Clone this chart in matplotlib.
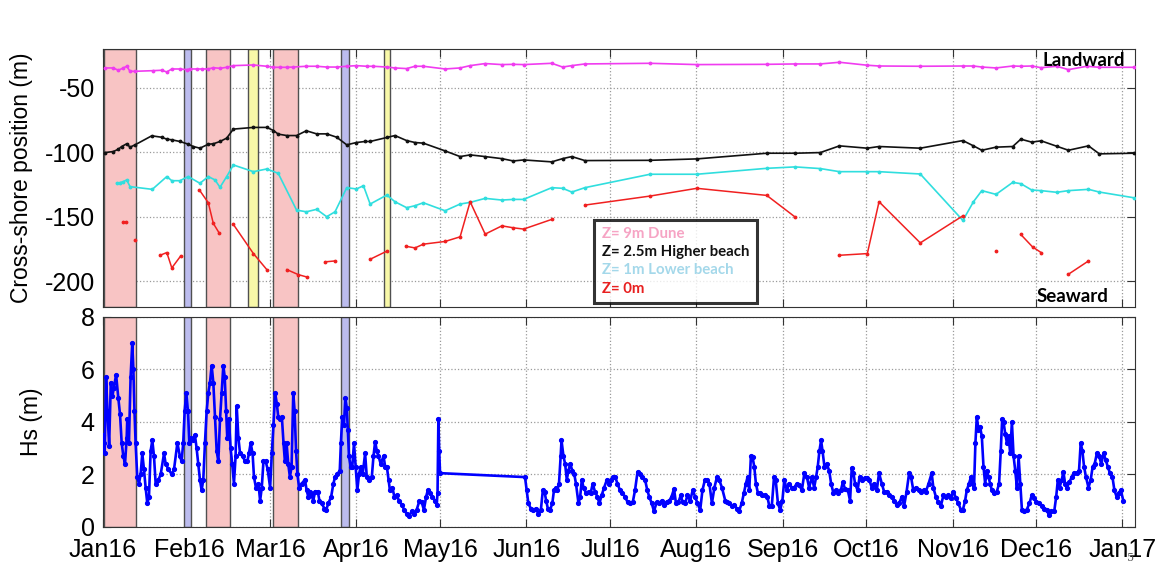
import numpy as np
import matplotlib
matplotlib.use("Agg")
import matplotlib.pyplot as plt
import matplotlib.dates as mdates
from matplotlib.lines import Line2D
from datetime import datetime

# days are counted from 1 Jan 2016
mag_day = [0.7, 3.7, 5.5, 7.3, 8.5, 9.7, 11.5, 18, 21, 22.9, 24.7, 27.6, 30, 31.2, 33.6, 35.4,
           37.8, 39.6, 42, 44.4, 46.8, 54, 58.8, 61.2, 63.6, 66, 68.3, 73, 76.7, 80.3, 83.9,
           87.5, 91, 94.6, 97, 101.9, 104.8, 109, 112, 115, 122.8, 128.2, 131.8, 137.2, 143.2,
           147.3, 151, 161.1, 165, 168.3, 173, 196.4, 213.2, 238.3, 248.5, 257.5, 264.4, 274.4,
           278.6, 293.4, 308.7, 312.5, 315.5, 320.6, 326.6, 329.5, 333.4, 336.8, 342.4, 346.6,
           353.2, 357.7, 370]
mag_val = [-34.7, -34.7, -36.5, -34.7, -33.4, -37.3, -37.3, -36.8, -36.5, -37.8, -35.5, -35.5,
           -36.0, -35.5, -35.5, -35.5, -35.5, -34.5, -35.0, -34.2, -32.9, -32.4, -33.4, -34.2,
           -34.2, -34.2, -34.0, -33.4, -33.4, -34.0, -34.0, -33.4, -32.9, -33.4, -33.4, -34.0,
           -34.7, -35.2, -33.4, -33.4, -35.5, -34.7, -32.9, -31.3, -32.1, -31.9, -32.1, -31.1,
           -34.0, -32.9, -31.6, -31.1, -32.1, -31.9, -31.6, -31.6, -30.3, -32.6, -33.2, -33.4,
           -33.2, -33.2, -34.0, -34.7, -33.2, -33.4, -33.2, -34.5, -33.4, -36.0, -33.4, -34.2,
           -34.2]

blk_day = [0.7, 3.7, 5.5, 6.7, 8.5, 9.7, 11.5, 17.5, 21, 22.9, 24.7, 27.6, 30.6, 32.4, 34.8,
           37.8, 39.6, 42, 44.4, 46.8, 54, 58.8, 61.2, 62.9, 66, 69.5, 73, 76.7, 80.3, 83.9,
           87.5, 91, 94.1, 95.9, 101.9, 104.8, 109, 112, 115, 122.8, 128.2, 131.8, 137.2,
           143.2, 147.3, 151, 161.1, 165, 168.3, 173, 196.4, 213.2, 238.3, 248.5, 257.5, 264.4,
           274.4, 278.6, 293.4, 308.7, 312.5, 315.5, 320.6, 326.6, 329.5, 333.4, 336.8, 342.4,
           346.6, 353.8, 357.7, 370]
blk_val = [-100.3, -99.5, -97.7, -95.6, -93.5, -96.1, -94.3, -87.3, -88.4, -89.9, -90.4, -91.7,
           -93.8, -95.6, -96.9, -93.8, -93.5, -91.7, -89.1, -82.1, -80.8, -80.8, -83.2, -86.0,
           -87.1, -87.1, -83.4, -85.8, -85.8, -88.4, -94.3, -92.5, -91.7, -91.7, -88.6, -87.1,
           -91.0, -92.5, -93.0, -99.0, -103.4, -102.1, -103.4, -105.0, -106.8, -106.0, -107.5,
           -105.0, -103.4, -106.5, -106.3, -105.2, -100.8, -100.8, -100.3, -95.1, -96.9, -95.6,
           -96.9, -91.0, -95.1, -98.5, -96.1, -95.6, -89.9, -92.2, -91.2, -95.4, -98.5, -95.1,
           -101.3, -100.8]

cyn_day = [4.9, 6.1, 7.3, 8.5, 9.7, 17.7, 22.9, 24.7, 27.6, 30.6, 34.8, 37.8, 40.2, 42, 44.4,
           46.8, 54, 58.8, 62.9, 69.5, 73, 76.7, 80.3, 83.3, 87.5, 91, 93.5, 95.9, 101.9, 104.8,
           109, 112, 115, 122.8, 128.2, 131.8, 137.2, 143.2, 147.3, 151, 161.1, 165, 168.3, 173,
           196.4, 213.2, 238.3, 248.5, 257.5, 264.4, 274.4, 278.6, 293.4, 308.7, 312.5, 315.5,
           320.6, 326.6, 329.5, 333.4, 336.8, 342.4, 346.6, 353.8, 357.7, 370]
cyn_val = [-124.1, -123.6, -122.8, -121.5, -126.7, -128.8, -118.9, -122.1, -122.1, -118.9,
           -124.1, -118.9, -121.5, -127.2, -118.9, -109.9, -115.1, -113.0, -116.4, -144.9,
           -146.2, -144.3, -150.0, -146.2, -127.5, -128.5, -126.0, -140.2, -133.2, -138.4,
           -143.0, -141.5, -139.2, -145.4, -140.2, -138.9, -135.8, -137.1, -136.6, -136.6,
           -127.5, -128.0, -130.9, -127.5, -117.1, -117.1, -112.5, -111.4, -112.7, -115.1,
           -115.1, -115.1, -116.9, -152.9, -138.4, -129.8, -132.7, -123.4, -124.4, -129.3,
           -129.8, -131.1, -129.8, -128.8, -130.9, -135.3]

nan = np.nan
red_day = [7.3, 8.3, nan, 11.5, nan, 20.5, 22.9, 24.7, 27.9, nan, 34.6, 37.8, 39.6, 41.8, nan,
           46.8, 54, 58.8, nan, 66, 70.1, 73.1, nan, 79.7, 83.3, nan, 95.9, 101.9, nan,
           108.7, 112, 115, 122.8, 128.2, 131.8, 137.2, 143.2, 147.3, 151, 161.1, nan,
           173, 196.4, 213.2, 238.3, 248.5, nan, 264.4, 274.4, 278.6, 293.4, 308.7, nan,
           320.6, nan, 329.5, 333.7, 336.8, nan, 346.6, 353.8]
red_val = [-154, -154, nan, -167.7, nan, -179.9, -177.8, -189.7, -180.4, nan, -129.3, -139.2,
           -155.2, -163, nan, -156, -178.6, -191, nan, -191, -194.9, -196.7, nan, -185, -184.3,
           nan, -183, -176.7, nan, -172.9, -174.2, -171.3, -169.2, -165.6, -138.4, -163.5,
           -157.1, -158.6, -159.6, -152.1, nan, -141, -134, -128, -133.5, -150.3, nan,
           -179.9, -178.6, -138.4, -170.3, -149.3, nan, -176.5, nan, -163.8, -173.4, -177.8,
           nan, -194.6, -184.3]

hs_day = [0.0, 0.3, 0.6, 1.1, 1.6, 2.2, 2.8, 3.4, 3.9, 4.7, 5.5, 6.1, 6.7, 7.3, 7.9, 8.5, 8.7,
          9.3, 9.9, 10.5, 10.9, 11.3, 11.7, 12.3, 12.9, 13.5, 14.1, 14.7, 15.3, 15.9, 16.5, 17.1,
          17.7, 18.3, 18.9, 19.9, 20.7, 21.9, 22.5, 23.5, 24.7, 25.5, 26.7, 27.6, 28.2, 28.8,
          29.3, 29.9, 30.5, 31.0, 31.6, 32.4, 33.0, 33.6, 34.2, 34.8, 35.4, 36.0, 36.6, 37.2,
          37.8, 38.4, 39.0, 39.6, 40.2, 40.8, 41.4, 42.0, 42.6, 43.2, 43.7, 44.2, 44.6, 45.2,
          45.8, 46.4, 47.0, 47.6, 48.0, 48.6, 49.2, 50.1, 51.0, 51.8, 52.4, 53.0, 53.7, 54.2,
          54.9, 55.8, 56.4, 57.0, 57.6, 58.4, 59.1, 60.0, 60.6, 61.2, 61.8, 62.4, 62.9, 63.6,
          64.2, 64.8, 65.3, 65.9, 66.5, 67.1, 67.7, 68.3, 68.8, 69.3, 69.8, 70.4, 71.3,
          72.5, 73.1, 73.7, 74.3, 74.9, 75.5, 76.1, 77.1, 77.7, 78.5, 79.5, 80.1, 80.9, 81.9,
          82.7, 83.3, 84.1, 85.0, 85.4, 85.9, 86.5, 87.0, 87.5, 87.9, 88.3, 88.9, 89.5, 90.1,
          90.7, 91.3, 91.9, 92.5, 93.2, 94.1, 94.7, 95.5, 96.5, 97.1, 97.7, 98.3, 98.9, 99.7,
          100.7, 101.3, 101.9, 102.5, 103.0, 103.9, 104.6, 105.4, 106.3, 107.2, 108.2, 109.0,
          109.9, 110.8, 111.8, 112.6, 113.6, 114.4, 115.2, 116.0, 116.6, 117.4, 118.2, 119.2,
          119.8, 120.1, 120.4, 120.7, 121.0,
          151.5, 152.1, 152.7, 153.6, 154.5, 155.4, 156.3, 157.2, 157.9, 158.5, 159.1, 159.7,
          160.5, 161.3, 161.9, 162.5, 163.1, 163.7, 164.3, 164.6, 165.3, 165.9, 166.5, 167.1,
          167.7, 168.5, 169.2, 169.8, 170.7, 171.3, 171.9, 172.5, 173.4, 174.3, 175.1, 175.8,
          176.6, 177.5, 178.2, 179.0, 179.9, 180.9, 181.7, 182.4, 183.2, 183.9, 184.7, 185.6,
          186.5, 187.4, 188.3, 189.2, 190.2, 191.0, 191.9, 192.8, 193.6, 194.6, 195.4, 196.1,
          197.0, 197.8, 198.8, 199.7, 200.6, 201.4, 202.4, 203.3, 204.1, 205.0, 205.7, 206.6,
          207.4, 208.1, 209.0, 209.8, 210.8, 211.7, 212.6, 213.4, 214.4, 215.2, 216.1, 217.0,
          217.7, 218.6, 219.5, 220.4, 221.2, 222.2, 223.4,
          224.0, 224.8, 225.7, 226.7, 227.5, 228.3, 229.3, 230.1, 230.8, 231.4, 232.0, 232.6,
          233.2, 233.8, 234.4, 235.1, 235.9, 236.7, 237.7, 238.5, 239.2, 240.1, 240.9, 241.5,
          242.3, 243.1, 243.9, 244.6, 245.5, 246.3, 247.3, 248.1, 249.1, 249.9, 250.9, 251.8,
          252.7, 253.5, 254.5, 255.3, 256.0, 256.6, 257.2, 257.8, 258.3, 259.0, 259.8, 260.7,
          261.4, 262.2, 263.1, 264.0, 264.9, 265.6, 266.4, 267.4, 268.2, 268.8, 269.4, 270.0,
          270.9, 271.6, 272.4, 273.4, 274.2, 275.1, 276.0, 276.9, 277.8, 278.6, 279.6, 280.4,
          281.4, 282.2, 283.2, 284.0, 284.9, 285.8, 286.8, 287.6, 288.5, 289.4, 290.1, 290.9,
          291.8, 292.8, 293.7, 294.6, 295.4, 296.4,
          297.5, 298.1, 299.0, 299.9, 300.8, 301.7, 302.6, 303.5, 304.4, 305.3, 306.2, 307.1,
          308.0, 308.7, 309.5, 310.1, 310.9, 311.6, 312.2, 312.7, 313.2, 313.7, 314.3, 314.9,
          315.5, 316.1, 316.7, 317.3, 317.9, 318.5, 319.1, 319.9, 320.9, 321.7, 322.3, 322.8,
          323.3, 323.9, 324.5, 325.1, 325.7, 326.3, 326.9, 327.5, 328.1, 328.7, 329.3, 329.9,
          330.7, 331.6, 332.6, 333.4, 334.3, 335.1, 336.1, 337.0, 337.9, 338.8, 339.6, 340.5,
          341.5, 342.2, 342.8, 343.4, 344.2, 344.8, 345.4, 346.0, 346.9, 347.8, 348.7, 349.6,
          350.4, 351.0, 351.6, 352.2, 352.9, 353.8, 354.6, 355.3, 356.0, 356.8, 357.6, 358.4,
          359.2, 360.0, 360.7, 361.5, 362.4, 363.1, 363.9, 364.7, 365.4, 366.3]
hs_val = [3.5, 3.2, 2.8, 5.7, 4.4, 3.1, 5.5, 5.0, 5.3, 5.8, 4.9, 4.3, 3.2, 2.7, 2.4, 3.4, 4.1,
          3.2, 5.7, 7.0, 6.0, 4.4, 3.2, 1.9, 1.65, 2.0, 2.8, 2.2, 1.5, 0.9, 1.15, 2.9, 3.3, 2.7,
          1.65, 1.8, 2.0, 2.8, 2.4, 2.2, 2.0, 2.2, 3.2, 2.7, 2.5, 3.2, 4.4, 5.1, 4.4, 3.2, 3.4,
          3.3, 3.5, 3.0, 2.4, 1.8, 1.4, 1.8, 3.2, 4.4, 5.1, 5.5, 6.15, 5.5, 4.2, 2.9, 2.5, 4.1,
          5.1, 6.15, 5.7, 4.4, 3.4, 4.1, 3.0, 2.4, 1.65, 2.7, 4.6, 3.4, 2.8, 2.7, 2.5, 2.5, 2.8,
          3.2, 2.8, 1.9, 1.5, 1.65, 1.0, 1.5, 2.5, 2.5, 2.2, 1.5, 2.8, 3.9, 5.1, 4.7, 4.2, 4.1,
          4.2, 3.2, 2.5, 3.2, 2.4, 1.9, 2.3, 5.1, 4.4, 2.9, 2.0, 1.5, 1.65,
          1.8, 1.4, 1.15, 1.35, 1.2, 1.0, 1.35, 1.35, 1.0, 0.9, 0.7, 0.65, 0.9, 1.15, 1.65, 1.9,
          2.0, 2.15, 3.2, 4.2, 3.9, 4.9, 4.55, 3.7, 2.7, 2.3, 2.3, 3.2, 2.3, 1.4, 2.0, 2.3, 2.0,
          2.8, 1.9, 1.8, 1.9, 2.7, 3.25, 2.9, 2.7, 2.4, 2.7, 2.3, 2.3, 1.8, 1.4, 1.5, 1.15, 1.2,
          1.0, 0.85, 0.65, 0.5, 0.4, 0.6, 0.5, 0.65, 1.0, 0.95, 0.65, 1.15, 1.4, 1.3, 1.15, 1.0,
          0.85, 1.3, 4.1, 2.9, 2.05,
          1.9, 1.4, 0.9, 0.7, 0.65, 0.7, 0.5, 0.65, 1.4, 1.35, 1.0, 0.7, 0.65, 0.9, 1.4, 1.5,
          1.4, 1.65, 2.7, 3.3, 2.7, 2.4, 1.8, 2.15, 2.4, 2.15, 2.0, 1.65, 0.9, 1.15, 1.8, 1.5,
          1.3, 1.35, 1.3, 1.65, 1.35, 1.15, 0.9, 1.2, 1.5, 1.8, 1.65, 1.8, 1.9, 1.9, 1.65, 1.4,
          1.3, 1.15, 0.95, 0.9, 0.95, 1.4, 2.1, 2.0, 1.9, 1.8, 1.4, 1.15, 0.9, 0.6, 0.95, 0.9,
          1.0, 0.85, 0.95, 1.0, 1.15, 1.45, 0.9, 0.95, 1.2, 0.95, 0.9, 1.2, 1.0, 1.4, 1.15, 0.9,
          0.65, 1.4, 1.8, 1.8, 1.65, 0.9, 1.5, 1.9, 1.8, 1.5, 1.0,
          0.95, 0.9, 0.8, 0.85, 0.7, 0.6, 0.9, 1.3, 1.65, 1.9, 1.4, 2.7, 2.65, 2.3, 1.65, 1.3,
          1.3, 1.2, 1.2, 1.15, 0.8, 0.8, 1.9, 1.8, 0.9, 0.65, 1.0, 1.8, 1.4, 1.65, 1.5, 1.5,
          1.65, 1.6, 1.4, 2.05, 1.9, 1.5, 1.9, 1.5, 1.9, 2.3, 2.9, 3.3, 2.9, 2.3, 2.4, 2.15,
          1.65, 1.3, 1.4, 1.3, 1.4, 1.7, 1.45, 1.4, 1.0, 2.25, 2.05, 1.65, 1.4, 1.9, 1.8, 1.85,
          1.85, 1.8, 1.5, 1.65, 1.4, 2.05, 1.65, 1.35, 1.35, 1.2, 1.15, 1.0, 0.85, 0.9, 1.15,
          0.8, 1.35, 2.05, 1.9, 1.4, 1.5, 1.4, 1.35, 1.4, 1.35, 1.65,
          2.05, 1.5, 1.15, 0.95, 0.8, 1.2, 1.15, 1.2, 1.1, 1.35, 1.1, 0.9, 0.65, 0.65, 1.0, 1.4,
          1.65, 1.9, 1.65, 1.5, 3.2, 4.2, 3.7, 3.8, 3.45, 2.3, 1.65, 2.15, 1.9, 1.65, 1.4, 1.3,
          1.35, 1.65, 2.9, 4.1, 4.0, 3.55, 3.2, 3.45, 2.8, 4.0, 2.7, 2.15, 1.5, 2.7, 1.65, 0.65,
          0.6, 0.65, 0.9, 1.2, 1.1, 0.95, 0.9, 0.8, 0.7, 0.65, 0.45, 0.6, 0.6, 1.15, 1.8, 1.5,
          1.8, 2.1, 1.65, 1.5, 1.7, 1.9, 2.05, 2.05, 2.15, 3.2, 2.9, 2.3, 1.9, 1.5, 1.8, 2.3,
          2.4, 2.8, 2.7, 2.4, 2.8, 2.55, 2.3, 2.05, 1.9, 1.4, 1.15, 1.3, 1.4, 1.0]

# storm / event periods (days from 1 Jan 2016)
band_start = [0.4, 29.1, 36.9, 52.0, 61.2, 85.6, 100.9]
band_end = [12.0, 31.5, 45.7, 55.8, 70.0, 88.3, 103.0]
band_kind = ["pink", "blue", "pink", "yellow", "pink", "blue", "yellow"]

legend_labels = ["Z= 9m Dune", "Z= 2.5m Higher beach", "Z= 1m Lower beach", "Z= 0m"]

band_colors = {"pink": "#f8c4c4", "blue": "#bcbcee", "yellow": "#f8f8a8"}
t0 = mdates.date2num(datetime(2016, 1, 1))


def tx(days):
    return t0 + np.array(days, dtype=float)


plt.rcParams['font.family'] = ['Liberation Sans', 'DejaVu Sans']
plt.rcParams['axes.unicode_minus'] = False
fig = plt.figure(figsize=(11.64, 5.63), dpi=100)
ax1 = fig.add_axes([0.0885, 0.4547, 0.8866, 0.4583])
ax2 = fig.add_axes([0.0885, 0.064, 0.8866, 0.373])

for ax, lower in [(ax1, False), (ax2, True)]:
    for s, e, k in zip(band_start, band_end, band_kind):
        if lower and k == "yellow":
            continue
        ax.axvspan(tx(s), tx(e), facecolor=band_colors[k], edgecolor="#505050", lw=1, zorder=1)
    ax.grid(True, color="#9a9a9a", linestyle=":", lw=0.9)
    ax.set_axisbelow(True)
    ax.xaxis.set_major_locator(mdates.MonthLocator())
    ax.xaxis.set_major_formatter(mdates.DateFormatter("%b%y"))
    ax.set_xlim(tx(0), tx(370.5))
    ax.tick_params(direction="in", top=True, right=True, length=6, labelsize=18,
                   color="#333333", pad=6)
    ax.tick_params(axis="x", pad=8)
    for sp in ax.spines.values():
        sp.set_color("#333333")

ms = 3.5
ax1.plot(tx(mag_day), mag_val, "-", color="#f03cf0", lw=1.2, marker=".", ms=ms, zorder=3)
ax1.plot(tx(blk_day), blk_val, "-", color="#111111", lw=1.2, marker=".", ms=ms, zorder=3)
ax1.plot(tx(cyn_day), cyn_val, "-", color="#30dede", lw=1.2, marker=".", ms=ms, zorder=3)
ax1.plot(tx(red_day), red_val, "-", color="#f02020", lw=1.1, marker=".", ms=ms, zorder=3)
ax1.set_ylim(-220, -20)
ax1.set_yticks([-200, -150, -100, -50])
ax1.tick_params(labelbottom=False)
ax1.set_ylabel("Cross-shore position (m)", fontsize=16.5)
ax1.yaxis.set_label_coords(-0.068, 0.5)

bold = {"family": "Lato", "weight": "bold", "size": 13.5}
ax1.text(0.99, 0.955, "Landward", transform=ax1.transAxes, ha="right", va="center",
         fontdict=bold, zorder=5)
ax1.text(0.974, 0.04, "Seaward", transform=ax1.transAxes, ha="right", va="center",
         fontdict=bold, zorder=5)

handles = [Line2D([], [], linestyle="none") for _ in legend_labels]
leg = ax1.legend(handles, legend_labels, loc="lower left", bbox_to_anchor=(0.476, 0.015),
                 borderaxespad=0, handlelength=0, handletextpad=0, labelspacing=0.28,
                 borderpad=0.5, fancybox=False, edgecolor="black",
                 labelcolor=["#f6a4c4", "#111111", "#a4d8ea", "#e82020"],
                 prop={"family": "Lato", "weight": "bold", "size": 10.8})
leg.get_frame().set_linewidth(2.2)
leg.set_zorder(6)

ax2.plot(tx(hs_day), hs_val, "-", color="#0000ff", lw=1.9, marker=".", ms=5.5, zorder=3)
ax2.set_ylim(0, 8)
ax2.set_yticks([0, 2, 4, 6, 8])
ax2.set_ylabel("Hs (m)", fontsize=16.5)
ax2.yaxis.set_label_coords(-0.058, 0.5)

fig.text(0.968, 0.0, "5", fontsize=8, family="DejaVu Serif", va="bottom", color="#555555")

fig.savefig("out.png", dpi=100)
